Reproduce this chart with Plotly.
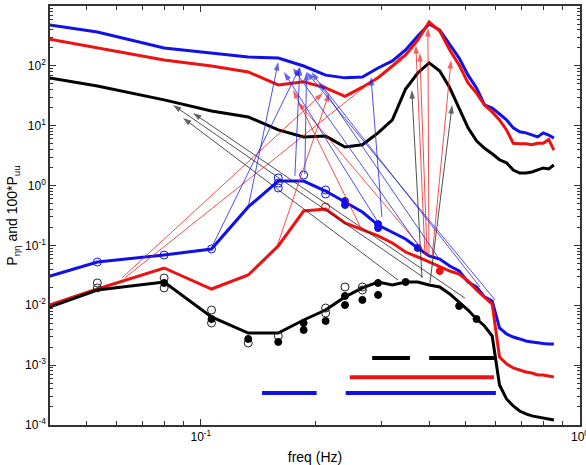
import numpy as np
import plotly.graph_objects as go

# frequency bins (Hz)
freqs = [0.02667, 0.05333, 0.08, 0.10667, 0.13333, 0.16, 0.18667, 0.21333, 0.24, 0.26667,
         0.29333, 0.32, 0.34667, 0.37333, 0.4, 0.42667, 0.45333, 0.48, 0.50667, 0.53333,
         0.56, 0.58667, 0.61333, 0.64, 0.66667, 0.69333, 0.72, 0.74667, 0.77333, 0.8,
         0.82667, 0.85333]

# upper spectra
upper_blue = [708, 368, 199, 164, 141, 135, 99.5, 70, 63, 65, 92, 121, 184, 315, 500, 397,
              223, 135, 70, 42.7, 22.2, 19.8, 15.7, 12.5, 9.2, 7.9, 7.6, 7.0, 6.5, 7.6, 7.0, 6.2]
upper_red = [446, 203, 125, 99.5, 79, 48, 54, 43, 31, 44, 63, 99.5, 152, 270, 540, 382,
             184, 103, 52, 35, 22.2, 17, 12.5, 8.5, 5.1, 5.0, 5.0, 4.8, 5.1, 5.1, 5.9, 3.9]
upper_black = [96, 46, 27, 17.6, 14, 8.5, 6.5, 6.7, 4.4, 4.8, 7.6, 12.5, 41, 76, 112, 82,
               43, 19.8, 9.2, 5.6, 4.2, 3.4, 2.7, 2.4, 1.82, 1.62, 1.62, 1.69, 1.82, 1.97, 1.89, 2.2]

# lower spectra
lower_blue = [0.0143, 0.0528, 0.0692, 0.0873, 0.44, 1.19, 1.19, 0.81, 0.532, 0.362, 0.219,
              0.168, 0.128, 0.0906, 0.0667, 0.0593, 0.0454, 0.0374, 0.0245, 0.0202, 0.0138,
              0.0118, 0.00418, 0.00332, 0.00295, 0.00274, 0.00253, 0.00244, 0.00234, 0.0023,
              0.00225, 0.00225]
lower_red = [0.00434, 0.0187, 0.042, 0.0187, 0.0321, 0.098, 0.376, 0.406, 0.237, 0.181,
             0.144, 0.110, 0.0776, 0.0641, 0.0528, 0.0436, 0.0374, 0.0333, 0.0255, 0.018,
             0.0138, 0.0105, 0.00137, 0.00105, 0.000897, 0.00083, 0.00077, 0.00074,
             0.000686, 0.000686, 0.00066, 0.000634]
lower_black = [0.00372, 0.018, 0.0245, 0.00638, 0.00344, 0.00344, 0.00568, 0.00834, 0.0138,
               0.0195, 0.0245, 0.0218, 0.0245, 0.0245, 0.0218, 0.0202, 0.0155, 0.0113,
               0.00834, 0.0059, 0.00451, 0.00307, 0.000467, 0.000272, 0.000208, 0.000171,
               0.000153, 0.000142, 0.000137, 0.000131, 0.000127, 0.000121]

# markers
black_open_f = [0.05333, 0.05333, 0.08, 0.08, 0.10667, 0.10667, 0.13333, 0.16, 0.21333, 0.21333, 0.24, 0.26667, 0.26667]
black_open_p = [0.0236, 0.0195, 0.0286, 0.0195, 0.00834, 0.00506, 0.00234, 0.00307, 0.00901, 0.00743, 0.0202, 0.0202, 0.018]
black_fill_f = [0.08, 0.10667, 0.13333, 0.16, 0.18667, 0.18667, 0.21333, 0.24, 0.24, 0.26667, 0.29333, 0.29333, 0.34667, 0.48, 0.53333]
black_fill_p = [0.0236, 0.0059, 0.00274, 0.00244, 0.00506, 0.00387, 0.00547, 0.0143, 0.0101, 0.0123, 0.0236, 0.0149, 0.0245, 0.00973, 0.0059]
blue_open_f = [0.05333, 0.08, 0.10667, 0.16, 0.16, 0.16, 0.18667, 0.21333, 0.21333]
blue_open_p = [0.0528, 0.0692, 0.0873, 1.34, 1.10, 0.912, 1.50, 0.843, 0.723]
blue_fill_f = [0.24, 0.24, 0.29333, 0.29333, 0.37333]
blue_fill_p = [0.552, 0.474, 0.228, 0.195, 0.0906]
red_open_f = [0.21333]
red_open_p = [0.44]
red_fill_f = [0.42667]
red_fill_p = [0.0374]

# arrows: (tail f, tail P, head f, head P)
arrows_black = [(0.385, 0.0297, 0.0844, 22.2), (0.331, 0.0265, 0.0897, 13.5),
                (0.497, 0.0132, 0.0953, 16.3), (0.383, 0.0286, 0.360, 39.5),
                (0.402, 0.0236, 0.460, 22.2)]
arrows_red = [(0.0619, 0.0286, 0.21, 35.2), (0.063, 0.0286, 0.345, 152),
              (0.159, 0.098, 0.218, 35.2), (0.266, 0.181, 0.175, 39.5),
              (0.39, 0.0776, 0.180, 24.9), (0.39, 0.0692, 0.369, 223),
              (0.395, 0.0692, 0.378, 164), (0.3996, 0.0667, 0.397, 429),
              (0.407, 0.0617, 0.457, 125)]
arrows_blue = [(0.1063, 0.0873, 0.1825, 95.7), (0.1333, 0.438, 0.16, 116),
               (0.177, 1.45, 0.1825, 95.7), (0.188, 1.56, 0.19, 79),
               (0.293, 0.247, 0.1656, 79), (0.374, 0.1016, 0.175, 92),
               (0.427, 0.0571, 0.196, 79), (0.545, 0.0202, 0.205, 53.7),
               (0.597, 0.0123, 0.19, 79), (0.3003, 0.2985, 0.281, 65.2)]

# horizontal bars (f start, f end, level)
bars_black = [(0.283, 0.356, 1.32e-3), (0.4, 0.597, 1.32e-3)]
bars_red = [(0.247, 0.593, 6.3e-4)]
bars_blue = [(0.145, 0.202, 3.43e-4), (0.241, 0.6, 3.43e-4)]

BLUE = "#1010e8"
RED = "#ee1111"
BLACK = "#000000"

fig = go.Figure()

for ys, c in [(upper_blue, BLUE), (upper_red, RED), (upper_black, BLACK),
              (lower_blue, BLUE), (lower_red, RED), (lower_black, BLACK)]:
    fig.add_trace(go.Scatter(x=freqs, y=ys, mode="lines", line=dict(color=c, width=3),
                             showlegend=False, hoverinfo="skip"))

for bars, c in [(bars_black, BLACK), (bars_red, RED), (bars_blue, BLUE)]:
    for f0, f1, lv in bars:
        fig.add_trace(go.Scatter(x=[f0, f1], y=[lv, lv], mode="lines",
                                 line=dict(color=c, width=4), showlegend=False))

def mk(fx, py, c, sym, size):
    fig.add_trace(go.Scatter(x=fx, y=py, mode="markers", showlegend=False,
                             marker=dict(symbol=sym, size=size, color=c,
                                         line=dict(color=c, width=1))))

mk(black_open_f, black_open_p, "#222", "circle-open", 8)
mk(black_fill_f, black_fill_p, BLACK, "circle", 7)
mk(blue_open_f, blue_open_p, BLUE, "circle-open", 8)
mk(blue_fill_f, blue_fill_p, BLUE, "circle", 7)
mk(red_open_f, red_open_p, RED, "circle-open", 8)
mk(red_fill_f, red_fill_p, RED, "circle", 7)

# arrows as line traces with direction-following arrow markers at the heads
for arr, c in [(arrows_black, "#222222"), (arrows_red, "#ee2222"), (arrows_blue, "#2222e0")]:
    xs, ys, sizes, syms = [], [], [], []
    for tf, tp, hf, hp in arr:
        xs += [tf, hf, None]
        ys += [tp, hp, None]
        sizes += [0, 9, 0]
        syms += ["circle", "arrow", "circle"]
    fig.add_trace(go.Scatter(x=xs, y=ys, mode="lines+markers", showlegend=False,
                             line=dict(color=c, width=0.8),
                             marker=dict(symbol=syms, size=sizes, color=c,
                                         angleref="previous", line=dict(width=0))))

ytv = [10.0 ** e for e in range(-4, 4)]
ytt = ["10<sup>%d</sup>" % e for e in range(-4, 4)]

fig.update_layout(
    width=586, height=465,
    margin=dict(l=50, r=6, t=6, b=40),
    paper_bgcolor="white", plot_bgcolor="white",
    font=dict(family="Liberation Sans, Arial, sans-serif", size=12, color="black"),
    xaxis=dict(type="log", range=[np.log10(0.04), 0], tickvals=[0.1, 1],
               ticktext=["10<sup>-1</sup>", "10<sup>0</sup>"], ticklabeloverflow="allow",
               automargin=False,
               ticks="inside", ticklen=6, tickcolor="#333", showgrid=False, zeroline=False,
               showline=True, linecolor="#333", linewidth=1.5, mirror="ticks",
               minor=dict(ticks="inside", ticklen=4, tickcolor="#333", showgrid=False,
                          tickvals=[0.05, 0.06, 0.07, 0.08, 0.09, 0.2, 0.3, 0.4, 0.5, 0.6, 0.7, 0.8, 0.9]),
               title=dict(text="freq (Hz)", standoff=14, font=dict(size=14))),
    yaxis=dict(type="log", range=[-4, 3], tickvals=ytv, ticktext=ytt, automargin=False,
               ticks="inside", ticklen=6, tickcolor="#333", showgrid=False, zeroline=False,
               showline=True, linecolor="#333", linewidth=1.5, mirror="ticks",
               minor=dict(ticks="inside", ticklen=3, tickcolor="#333", showgrid=False,
                          tickvals=[m * 10.0 ** e for e in range(-4, 3) for m in range(2, 10)]),
               title=dict(text="P<sub>ηη</sub> and 100*P<sub>uu</sub>", standoff=4, font=dict(size=14))),
)

fig.write_html("out.html")
